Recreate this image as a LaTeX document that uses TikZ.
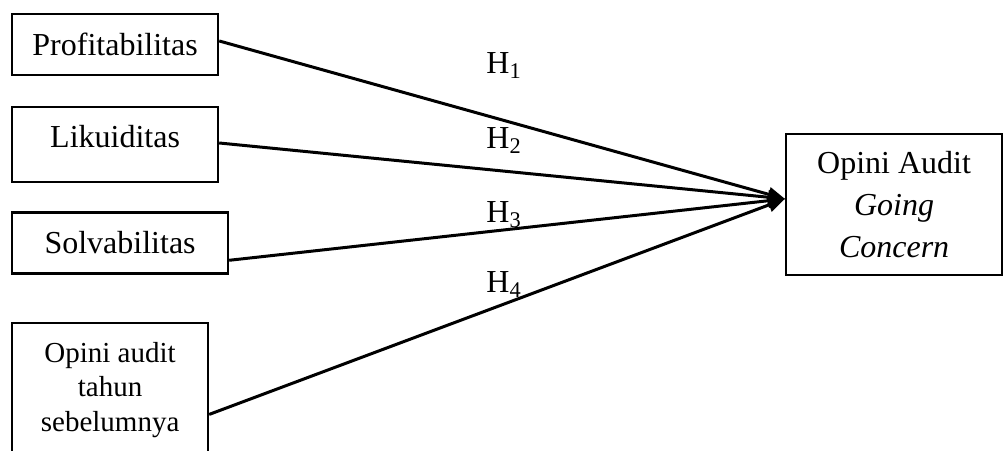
\documentclass[tikz,border=0pt]{standalone}
\usepackage{fontspec}
\setmainfont{Liberation Serif}
\usetikzlibrary{arrows.meta,positioning}

\begin{document}
\begin{tikzpicture}[
x=0.5pt,y=-0.5pt,
node distance=16pt,
box/.style={draw,line width=1.1pt,align=center,inner sep=0pt,font=\fontsize{16}{21}\selectfont},
arr/.style={-{Triangle[length=8.5pt,width=7pt]},line width=1.5pt},
hyp/.style={anchor=base west,inner sep=0pt,font=\fontsize{16}{19}\selectfont}]
\useasboundingbox (0,0) rectangle (1004,450);
\node[box,minimum width=103pt,minimum height=30.5pt,anchor=north west] (prof) at (11,13) {Profitabilitas};
\node[box,minimum width=103pt,minimum height=37.5pt,below=15pt of prof.south west,anchor=north west,text depth=8pt] (lik) {Likuiditas};
\node[box,minimum width=108pt,minimum height=30.5pt,below=14pt of lik.south west,anchor=north west] (solv) {Solvabilitas};
\node[box,minimum width=98pt,minimum height=67pt,below=23.5pt of solv.south west,anchor=north west,font=\fontsize{14.5}{17.25}\selectfont] (prev) {Opini audit\\tahun\\sebelumnya};
\node[box,minimum width=108pt,minimum height=70.5pt,anchor=north west] (gc) at (785,133) {Opini Audit\\\textit{Going}\\\textit{Concern}};
\node[hyp] (h1) at (486,73) {H\textsubscript{1}};
\node[hyp] (h2) at (486,148) {H\textsubscript{2}};
\node[hyp] (h3) at (486,222) {H\textsubscript{3}};
\node[hyp] (h4) at (486,292) {H\textsubscript{4}};
\draw[arr] (prof.2) -- (gc.177);
\draw[arr] (lik.1) -- (gc.177);
\draw[arr] (solv.-9) -- (gc.177);
\draw[arr] (prev.-14) -- (gc.177);
\end{tikzpicture}
\end{document}
